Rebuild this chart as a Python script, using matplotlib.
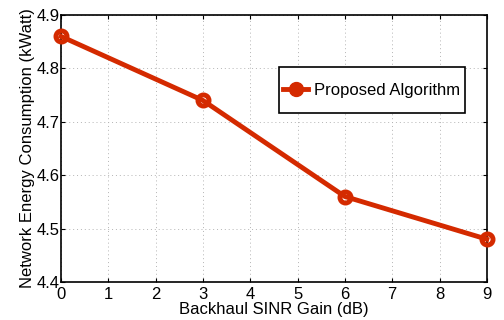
import matplotlib
matplotlib.use("Agg")
import matplotlib.pyplot as plt
from matplotlib.lines import Line2D
from matplotlib.patches import Rectangle

gain_db = [0, 3, 6, 9]
energy_kw = [4.86, 4.74, 4.56, 4.48]
series_label = "Proposed Algorithm"
xticks = list(range(0, 10))
yticks = [4.4, 4.5, 4.6, 4.7, 4.8, 4.9]

plt.rcParams['font.family'] = ['Liberation Sans', 'DejaVu Sans']
fig = plt.figure(figsize=(5.04, 3.2), dpi=100)
ax = fig.add_axes([0.121, 0.119, 0.845, 0.834])
color = '#D42A00'
ax.plot(gain_db, energy_kw, color=color, lw=3.5, marker='o', ms=8,
        mfc='none', mec=color, mew=3.5, label=series_label, clip_on=False, zorder=3)
ax.set_xlim(0, 9)
ax.set_ylim(4.4, 4.9)
ax.set_xticks(xticks)
ax.set_yticks(yticks)
ax.set_yticklabels([f"{v:.1f}" for v in yticks])
ax.tick_params(axis='both', direction='in', labelsize=12, length=3, top=True, right=True)
ax.tick_params(axis='x', pad=4)
ax.tick_params(axis='y', pad=1)
ax.grid(True, linestyle=(0, (1, 3)), color='#b4b4b4', lw=0.7)
for s in ax.spines.values():
    s.set_linewidth(1.2)
ax.set_xlabel("Backhaul SINR Gain (dB)", fontsize=12, labelpad=0)
ax.set_ylabel("Network Energy Consumption (kWatt)", fontsize=12, labelpad=1)

# legend box
ax.add_patch(Rectangle((0.512, 0.633), 0.437, 0.172, transform=ax.transAxes,
                       facecolor='white', edgecolor='black', lw=1.2, zorder=4))
lh = Line2D([], [], color=color, lw=3.5, marker='o', ms=10, mfc=color, mec=color)
leg = ax.legend([lh], [series_label], loc='center', bbox_to_anchor=(0.730, 0.719),
                fontsize=12, frameon=False, handlelength=1.5, handletextpad=0.35,
                borderpad=0, borderaxespad=0)
leg.set_zorder(5)
fig.savefig("out.png", dpi=100)
